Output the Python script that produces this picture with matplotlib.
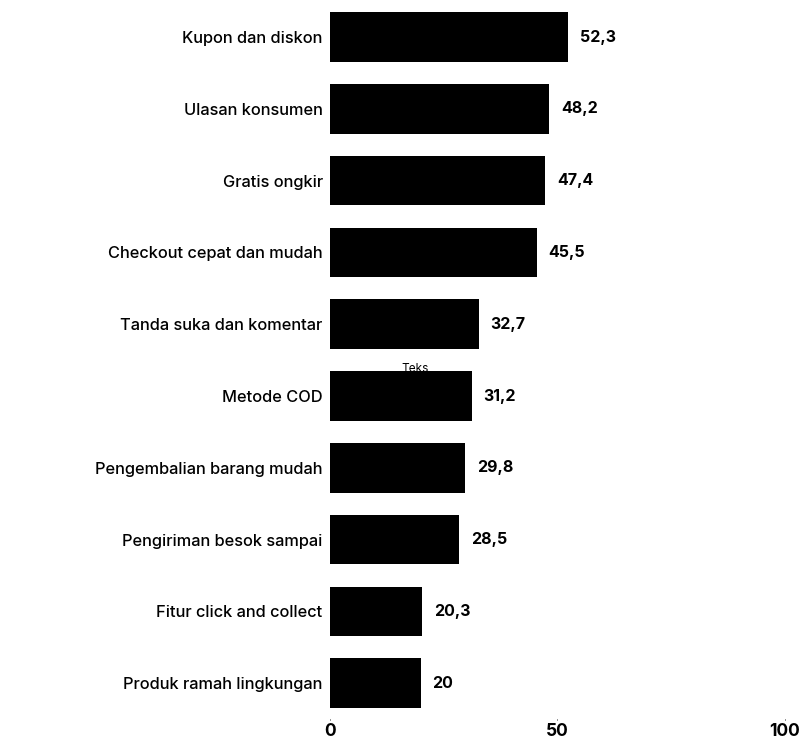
import matplotlib.pyplot as plt

categories = [
    "Kupon dan diskon",
    "Ulasan konsumen",
    "Gratis ongkir",
    "Checkout cepat dan mudah",
    "Tanda suka dan komentar",
    "Metode COD",
    "Pengembalian barang mudah",
    "Pengiriman besok sampai",
    "Fitur click and collect",
    "Produk ramah lingkungan",
]
values = [52.3, 48.2, 47.4, 45.5, 32.7, 31.2, 29.8, 28.5, 20.3, 20]
value_labels = ["52,3", "48,2", "47,4", "45,5", "32,7", "31,2", "29,8", "28,5", "20,3", "20"]
x_ticks = [0, 50, 100]

plt.rcParams['font.family'] = ['Inter', 'DejaVu Sans']

fig = plt.figure(figsize=(8.1, 7.43), dpi=100)
ax = fig.add_axes([0.407, 0.0323, 0.562, 0.966])

y = list(range(len(categories)))
ax.barh(y, values, height=0.69, color='black')
for yi, v, lab in zip(y, values, value_labels):
    ax.text(v + 2.6, yi, lab, va='center', ha='left', fontsize=11.5, fontweight='bold')

ax.set_ylim(len(categories) - 0.5, -0.5)
ax.set_xlim(0, 100)
ax.set_yticks(y)
ax.set_yticklabels(categories, fontsize=11.8, fontweight='medium')
ax.set_xticks(x_ticks)
ax.set_xticklabels([str(t) for t in x_ticks], fontsize=12.5, fontweight='bold')
ax.tick_params(axis='y', length=0, pad=5)
ax.tick_params(axis='x', length=1, width=0.6, pad=2)
for s in ax.spines.values():
    s.set_visible(False)

ax.text(18.8, 4.63, "Teks", fontsize=8.5, ha='center', va='center')

fig.savefig("out.png", dpi=100)
